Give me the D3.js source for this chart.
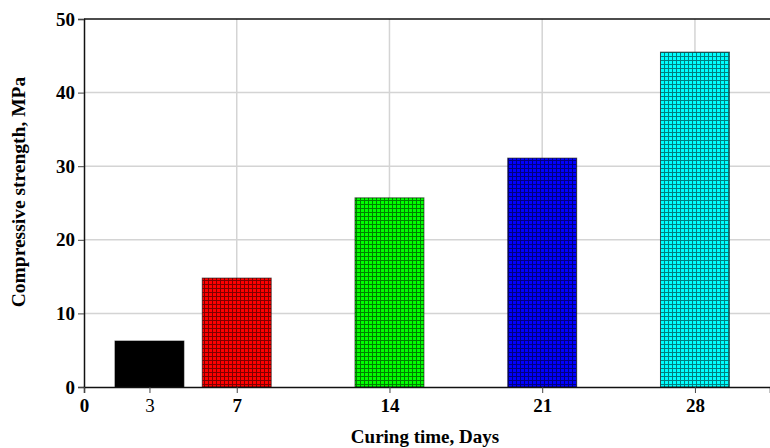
<!DOCTYPE html>
<html>
<head>
<meta charset="utf-8">
<script src="https://cdn.jsdelivr.net/npm/d3@7"></script>
<style>
  html, body { margin: 0; padding: 0; background: #fff; }
  svg { display: block; }
  text { font-family: "Liberation Serif", "Times New Roman", serif; }
</style>
</head>
<body>
<svg id="chart" width="770" height="448"></svg>
<script>
// Compressive strength vs. curing age
const days = [3, 7, 14, 21, 28];
const strength = [6.25, 14.8, 25.7, 31.1, 45.5];
const barColors = ["#000000", "#ff0000", "#00ff00", "#0000ff", "#00ffff"];
const xTicks = [0, 3, 7, 14, 21, 28];
const yTicks = [0, 10, 20, 30, 40, 50];
const xGrid = [7, 14, 21, 28];
const yGrid = [10, 20, 30, 40];

const W = 770, H = 448;
const margin = { left: 84, right: 0, top: 19, bottom: 61 };
const svg = d3.select("#chart");

const x = d3.scaleLinear().domain([0, 31.44]).range([margin.left, W - margin.right]);
const y = d3.scaleLinear().domain([0, 50]).range([H - margin.bottom, margin.top]);
const barW = x(3.16) - x(0);

// Hatched fills: coloured base with a fine dark grid
const defs = svg.append("defs");
barColors.forEach((c, i) => {
  const p = defs.append("pattern")
    .attr("id", "hatch" + i)
    .attr("patternUnits", "userSpaceOnUse")
    .attr("width", 4).attr("height", 4);
  p.append("rect").attr("width", 4).attr("height", 4).attr("fill", c);
  p.append("rect").attr("x", 0).attr("y", 0).attr("width", 1).attr("height", 4).attr("fill", "#000").attr("opacity", 0.5);
  p.append("rect").attr("x", 1).attr("y", 0).attr("width", 3).attr("height", 1).attr("fill", "#000").attr("opacity", 0.5);
});

// Grid lines
svg.append("g").selectAll("line").data(yGrid).join("line")
  .attr("x1", x(0)).attr("x2", W)
  .attr("y1", d => y(d)).attr("y2", d => y(d))
  .attr("stroke", "#d4d4d4").attr("stroke-width", 1.5);
svg.append("g").selectAll("line").data(xGrid).join("line")
  .attr("x1", d => x(d)).attr("x2", d => x(d))
  .attr("y1", y(50)).attr("y2", y(0))
  .attr("stroke", "#d4d4d4").attr("stroke-width", 1.5);

// Bars
svg.append("g").selectAll("rect").data(days).join("rect")
  .attr("x", d => x(d) - barW / 2)
  .attr("width", barW)
  .attr("y", (d, i) => y(strength[i]))
  .attr("height", (d, i) => y(0) - y(strength[i]))
  .attr("fill", (d, i) => i === 0 ? barColors[0] : `url(#hatch${i})`)
  .attr("stroke", "#000").attr("stroke-opacity", 0.6).attr("stroke-width", 1);

// Top frame line
svg.append("line")
  .attr("x1", x(0)).attr("x2", W)
  .attr("y1", y(50)).attr("y2", y(50))
  .attr("stroke", "#111").attr("stroke-width", 1.5);

// Y axis
const yAxis = svg.append("g")
  .attr("transform", `translate(${x(0)},0)`)
  .call(d3.axisLeft(y).tickValues(yTicks).tickSize(6).tickPadding(3));
yAxis.select(".domain").attr("stroke", "#111").attr("stroke-width", 1.5);
yAxis.selectAll(".tick line").attr("stroke", "#444");
yAxis.selectAll(".tick text")
  .attr("font-size", 19).attr("font-weight", "bold").attr("fill", "#000");

// X axis
const xAxis = svg.append("g")
  .attr("transform", `translate(0,${y(0)})`)
  .call(d3.axisBottom(x).tickValues(xTicks).tickSize(6).tickPadding(6));
xAxis.select(".domain").attr("stroke", "#111").attr("stroke-width", 1.5);
xAxis.selectAll(".tick line").attr("stroke", "#444");
xAxis.selectAll(".tick text")
  .attr("font-size", 19)
  .attr("font-weight", d => d === 3 ? "normal" : "bold")
  .attr("fill", "#000");

// Axis titles
svg.append("text")
  .attr("x", 425).attr("y", 443)
  .attr("text-anchor", "middle")
  .attr("font-size", 19).attr("font-weight", "bold")
  .text("Curing time, Days");
svg.append("text")
  .attr("transform", "translate(25,192) rotate(-90)")
  .attr("text-anchor", "middle")
  .attr("font-size", 19.5).attr("font-weight", "bold")
  .text("Compressive strength, MPa");
</script>
</body>
</html>
